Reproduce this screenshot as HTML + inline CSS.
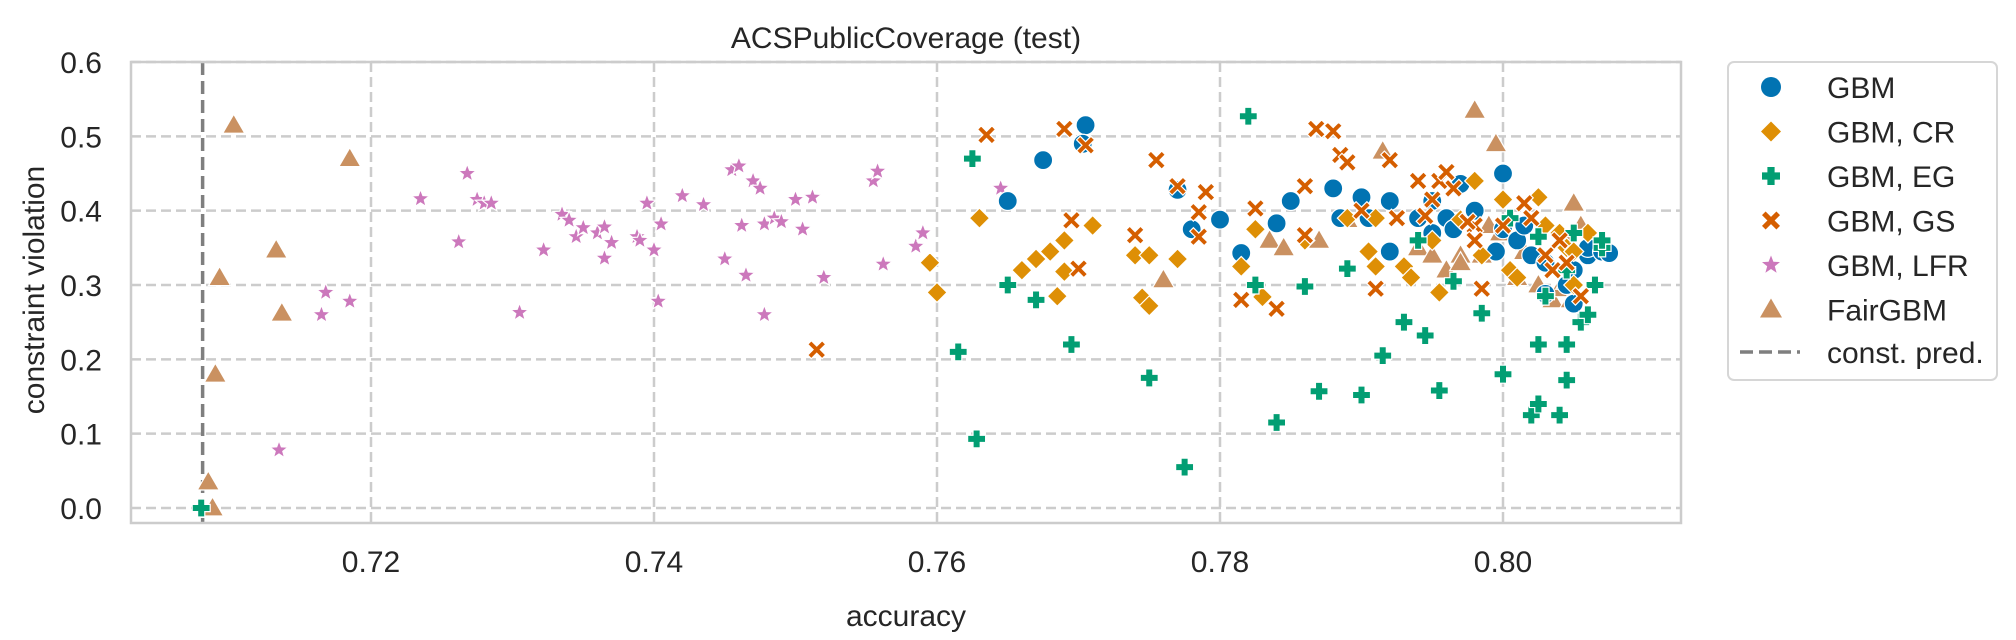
<!DOCTYPE html>
<html><head><meta charset="utf-8">
<style>
html,body{margin:0;padding:0;background:#fff;}
svg{display:block;font-family:"Liberation Sans",Arial,sans-serif;}
</style></head>
<body>
<svg id="chart" width="2016" height="640" viewBox="0 0 2016 640" xmlns="http://www.w3.org/2000/svg">
  <text x="906" y="48" font-size="30" fill="#262626" text-anchor="middle">ACSPublicCoverage (test)</text>
  <g id="grid"></g>
  <g id="ticks"></g>
  <g id="marks"></g>
  <rect x="131" y="62" width="1550" height="461" fill="none" stroke="#cccccc" stroke-width="2.5"/>
  <text x="906" y="626" font-size="30" fill="#262626" text-anchor="middle">accuracy</text>
  <text transform="translate(44,290) rotate(-90)" font-size="30" fill="#262626" text-anchor="middle">constraint violation</text>
  <g id="legend">
    <rect x="1728" y="62" width="269" height="318" rx="6" fill="#fff" stroke="#d6d6d6" stroke-width="2"/>
  </g>
</svg>
<script>
const xTicks = [0.72, 0.74, 0.76, 0.78, 0.80];
const xTickLabels = ["0.72", "0.74", "0.76", "0.78", "0.80"];
const yTicks = [0.0, 0.1, 0.2, 0.3, 0.4, 0.5, 0.6];
const yTickLabels = ["0.0", "0.1", "0.2", "0.3", "0.4", "0.5", "0.6"];
const constPred = 0.7081;
const seriesNames = ["GBM", "GBM, CR", "GBM, EG", "GBM, GS", "GBM, LFR", "FairGBM"];

const gbmX = [0.7675,0.7705,0.7703,0.765,0.777,0.778,0.780,0.7815,0.784,0.785,0.788,0.7885,0.790,0.7905,0.792,0.792,0.794,0.795,0.795,0.796,0.797,0.798,0.7995,0.800,0.800,0.801,0.802,0.803,0.803,0.8045,0.805,0.805,0.806,0.806,0.807,0.8075,0.7965,0.8015];
const gbmY = [0.468,0.515,0.49,0.413,0.428,0.375,0.388,0.343,0.383,0.413,0.43,0.39,0.418,0.39,0.413,0.345,0.39,0.37,0.413,0.39,0.436,0.40,0.345,0.45,0.375,0.36,0.34,0.33,0.288,0.30,0.32,0.275,0.34,0.35,0.345,0.343,0.375,0.38];
const crX = [0.7595,0.760,0.763,0.766,0.767,0.768,0.7685,0.769,0.769,0.771,0.774,0.7745,0.775,0.775,0.777,0.7815,0.7825,0.783,0.786,0.789,0.7905,0.791,0.791,0.793,0.7935,0.795,0.7955,0.797,0.798,0.7985,0.800,0.8005,0.8025,0.803,0.804,0.8045,0.805,0.805,0.806,0.801];
const crY = [0.33,0.29,0.39,0.32,0.335,0.345,0.285,0.36,0.318,0.38,0.34,0.283,0.272,0.34,0.335,0.325,0.375,0.284,0.36,0.39,0.345,0.325,0.39,0.325,0.31,0.36,0.29,0.388,0.44,0.34,0.415,0.32,0.418,0.38,0.37,0.35,0.345,0.30,0.37,0.31];
const egX = [0.708,0.7625,0.7628,0.7615,0.765,0.767,0.7695,0.775,0.7775,0.782,0.7825,0.784,0.786,0.787,0.789,0.790,0.7915,0.793,0.794,0.7945,0.7955,0.7965,0.7985,0.800,0.8005,0.802,0.8025,0.8025,0.804,0.8045,0.8045,0.8045,0.805,0.8055,0.806,0.807,0.807,0.8065,0.803,0.8025];
const egY = [0.0,0.47,0.093,0.21,0.30,0.28,0.22,0.175,0.055,0.527,0.30,0.115,0.298,0.157,0.322,0.152,0.205,0.25,0.36,0.232,0.158,0.305,0.262,0.18,0.39,0.125,0.14,0.22,0.125,0.22,0.172,0.32,0.37,0.25,0.26,0.35,0.36,0.30,0.285,0.365];
const gsX = [0.7515,0.7635,0.769,0.7705,0.7695,0.770,0.774,0.7755,0.777,0.7785,0.779,0.7785,0.7815,0.7825,0.784,0.786,0.7868,0.788,0.7885,0.789,0.786,0.790,0.791,0.792,0.7925,0.794,0.7945,0.795,0.7955,0.796,0.7965,0.798,0.7985,0.7975,0.800,0.8015,0.802,0.803,0.8035,0.804,0.8045,0.8055,0.798];
const gsY = [0.213,0.502,0.51,0.488,0.387,0.322,0.367,0.468,0.433,0.398,0.425,0.365,0.28,0.403,0.268,0.433,0.51,0.507,0.475,0.465,0.367,0.40,0.295,0.468,0.39,0.44,0.393,0.415,0.44,0.452,0.43,0.38,0.295,0.385,0.38,0.41,0.39,0.34,0.32,0.36,0.33,0.285,0.36];
const lfrX = [0.7135,0.7165,0.7168,0.7185,0.7235,0.7262,0.7268,0.7275,0.728,0.7285,0.7305,0.7322,0.7335,0.734,0.7345,0.735,0.736,0.7365,0.7365,0.737,0.7388,0.739,0.7395,0.740,0.7403,0.7405,0.742,0.7435,0.745,0.7455,0.746,0.7462,0.7465,0.747,0.7475,0.7478,0.7478,0.7485,0.749,0.750,0.7505,0.7512,0.752,0.7555,0.7558,0.7562,0.7585,0.759,0.7645];
const lfrY = [0.078,0.26,0.29,0.278,0.416,0.358,0.45,0.415,0.41,0.41,0.263,0.347,0.395,0.387,0.365,0.377,0.37,0.378,0.336,0.357,0.365,0.36,0.41,0.347,0.278,0.382,0.42,0.408,0.335,0.455,0.46,0.38,0.313,0.44,0.43,0.382,0.26,0.39,0.385,0.415,0.375,0.418,0.31,0.44,0.453,0.328,0.352,0.37,0.43];
const fairX = [0.7085,0.7088,0.709,0.7093,0.7103,0.7133,0.7137,0.7185,0.776,0.7835,0.7845,0.787,0.789,0.7915,0.794,0.796,0.797,0.798,0.7995,0.799,0.7985,0.7998,0.801,0.8015,0.8025,0.8035,0.804,0.8045,0.8048,0.805,0.8055,0.8045,0.797,0.795];
const fairY = [0.035,0.0,0.18,0.31,0.515,0.347,0.262,0.47,0.307,0.36,0.35,0.36,0.388,0.48,0.35,0.32,0.34,0.535,0.49,0.38,0.34,0.37,0.31,0.345,0.30,0.28,0.295,0.305,0.28,0.41,0.38,0.36,0.33,0.34];

const NS = "http://www.w3.org/2000/svg";
const X0 = 0.72, PX0 = 371, PXK = 14150;
const Y0PX = 508, PYK = 743.3;
function xs(v){ return PX0 + (v - X0) * PXK; }
function ys(v){ return Y0PX - v * PYK; }
function mk(tag, attrs, parent){
  const e = document.createElementNS(NS, tag);
  for (const k in attrs) e.setAttribute(k, attrs[k]);
  parent.appendChild(e);
  return e;
}
const colors = ["#0173b2","#de8f05","#029e73","#d55e00","#cc78bc","#ca9161"];

function shapePath(kind, cx, cy){
  if (kind === 1){ const r = 10; return `M${cx},${cy-r}L${cx+r},${cy}L${cx},${cy+r}L${cx-r},${cy}Z`; }
  if (kind === 2){ const a = 9, b = 3.6;
    return `M${cx-b},${cy-a}H${cx+b}V${cy-b}H${cx+a}V${cy+b}H${cx+b}V${cy+a}H${cx-b}V${cy+b}H${cx-a}V${cy-b}H${cx-b}Z`; }
  if (kind === 3){ const a = 9, w = 3.6;
    const pts = [[0,-w],[a-w,-a],[a,-a+w],[w,0],[a,a-w],[a-w,a],[0,w],[-a+w,a],[-a,a-w],[-w,0],[-a,-a+w],[-a+w,-a]];
    return "M" + pts.map(p => (cx+p[0]) + "," + (cy+p[1])).join("L") + "Z"; }
  if (kind === 4){ let d = ""; for (let i = 0; i < 10; i++){ const r = i % 2 ? 4 : 9.5; const t = -Math.PI/2 + i*Math.PI/5;
      d += (i ? "L" : "M") + (cx + r*Math.cos(t)).toFixed(1) + "," + (cy + r*Math.sin(t)).toFixed(1); } return d + "Z"; }
  if (kind === 5){ return `M${cx},${cy-11}L${cx+11},${cy+8}L${cx-11},${cy+8}Z`; }
  return "";
}
function drawMarker(kind, cx, cy, parent, stroke){
  if (kind === 0){
    return mk("circle", {cx: cx, cy: cy, r: 9.5, fill: colors[0], stroke: stroke, "stroke-width": 1.2}, parent);
  }
  return mk("path", {d: shapePath(kind, cx, cy), fill: colors[kind], stroke: stroke, "stroke-width": 1.2}, parent);
}

const grid = document.getElementById("grid");
const ticks = document.getElementById("ticks");
xTicks.forEach((t, i) => {
  const l = mk("line", {x1: xs(t), x2: xs(t), y1: 62, y2: 523, stroke: "#cccccc", "stroke-width": 2.5, "stroke-dasharray": "10,5"}, grid);
  
  
  const tx = mk("text", {x: xs(t), y: 572, "font-size": 30, fill: "#262626", "text-anchor": "middle"}, ticks);
  tx.textContent = xTickLabels[i];
  
  
});
yTicks.forEach((t, i) => {
  const l = mk("line", {x1: 131, x2: 1681, y1: ys(t), y2: ys(t), stroke: "#cccccc", "stroke-width": 2.5, "stroke-dasharray": "10,5"}, grid);
  
  
  const tx = mk("text", {x: 102, y: ys(t) + 11, "font-size": 30, fill: "#262626", "text-anchor": "end"}, ticks);
  tx.textContent = yTickLabels[i];
  
  
});
const cl = mk("line", {x1: xs(constPred), x2: xs(constPred), y1: 62, y2: 523, stroke: "#7f7f7f", "stroke-width": 3.5, "stroke-dasharray": "13,6"}, grid);



const marks = document.getElementById("marks");
const series = [[gbmX,gbmY],[crX,crY],[egX,egY],[gsX,gsY],[lfrX,lfrY],[fairX,fairY]];
const order = [4,5,0,1,2,3];
order.forEach(k => {
  const [sx, sy] = series[k];
  sx.forEach((v, i) => {
    const m = drawMarker(k, xs(v), ys(sy[i]), marks, "#ffffff");
    
    
  });
});

const legend = document.getElementById("legend");
const legendY = [87, 131.5, 176, 220.5, 265, 309.5];
seriesNames.forEach((n, k) => {
  const g = mk("g", {}, legend);
  
  
  if (k === 0) mk("circle", {cx: 1771, cy: legendY[k], r: 10, fill: colors[0]}, g);
  else drawMarker(k, 1771, legendY[k], g, "none");
  const t = mk("text", {x: 1827, y: legendY[k] + 11, "font-size": 30, fill: "#262626"}, g);
  t.textContent = n;
});
const lg = mk("g", {}, legend);


mk("line", {x1: 1740, x2: 1800, y1: 352, y2: 352, stroke: "#7f7f7f", "stroke-width": 3.5, "stroke-dasharray": "13,6"}, lg);
const lt = mk("text", {x: 1827, y: 363, "font-size": 30, fill: "#262626"}, lg);
lt.textContent = "const. pred.";
</script>
</body></html>
